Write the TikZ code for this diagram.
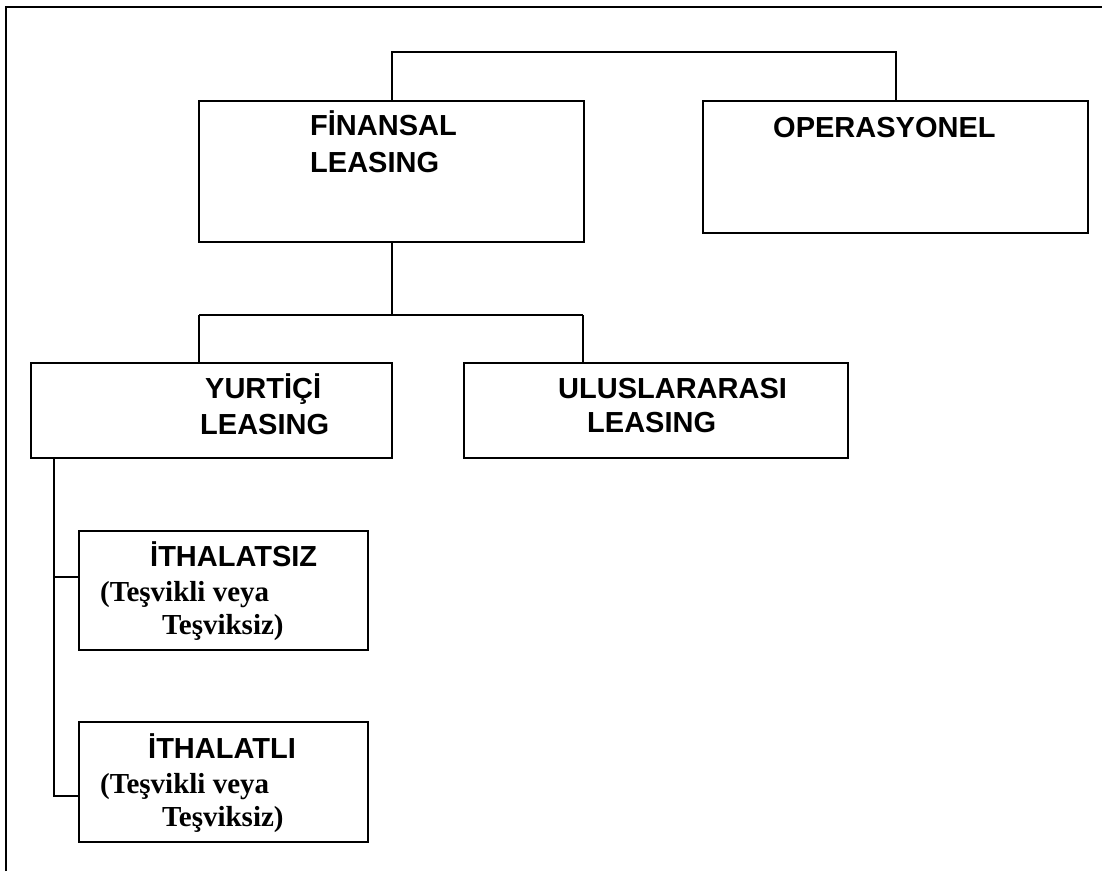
\documentclass[tikz,border=0pt]{standalone}
\usepackage{fontspec}
\setmainfont{Liberation Serif}[BoldFont={Liberation Serif Bold}]
\newfontfamily\headfont{Liberation Sans}[BoldFont={Liberation Sans Bold}]
\begin{document}
\begin{tikzpicture}[x=1pt,y=-1pt,
  box/.style={draw,line width=2.2pt,inner sep=0pt,anchor=north west},
  head/.style={anchor=base west,inner sep=0pt,font=\headfont\bfseries\fontsize{29}{34}\selectfont},
  sub/.style={anchor=base west,inner sep=0pt,font=\bfseries\fontsize{29}{34}\selectfont},
  link/.style={line width=2.2pt}]
\useasboundingbox (0,0) rectangle (1102,871);
\fill[white] (0,0) rectangle (1102,871);

% outer frame (top and left edges)
\draw[link] (6,871) -- (6,7) -- (1102,7);

% boxes
\node[box,minimum width=385pt,minimum height=141pt] (fin) at (198,100) {};
\node[box,minimum width=385pt,minimum height=132pt] (ope) at (702,100) {};
\node[box,minimum width=361pt,minimum height=95pt] (yur) at (30,362) {};
\node[box,minimum width=384pt,minimum height=95pt] (ulu) at (463,362) {};
\node[box,minimum width=289pt,minimum height=119pt] (its) at (78,530) {};
\node[box,minimum width=289pt,minimum height=120pt] (itl) at (78,721) {};

% texts
\node[head] (finA) at (310,135) {FİNANSAL};
\node[head] (finB) at (310,172) {LEASING};
\node[head] (opeA) at (773,137) {OPERASYONEL};
\node[head] (yurA) at (205,398) {YURTİÇİ};
\node[head] (yurB) at (200,434) {LEASING};
\node[head] (uluA) at (558,398) {ULUSLARARASI};
\node[head] (uluB) at (587,432) {LEASING};
\node[head] (itsA) at (150,566) {İTHALATSIZ};
\node[sub]  (itsB) at (100,601) {(Teşvikli veya};
\node[sub]  (itsC) at (162,634) {Teşviksiz)};
\node[head] (itlA) at (148,758) {İTHALATLI};
\node[sub]  (itlB) at (100,793) {(Teşvikli veya};
\node[sub]  (itlC) at (162,826) {Teşviksiz)};

% top level connector
\coordinate (topbar) at (0,52);
\draw[link] (fin.north) -- (fin.north |- topbar) -| (ope.north);

% second level connector
\coordinate (midbar) at (0,315);
\coordinate (j1) at (199,315);
\coordinate (j2) at (583,315);
\draw[link] (fin.south) -- (fin.south |- midbar);
\draw[link] (j1) -- (j2);
\draw[link] (j1) -- (j1 |- yur.north);
\draw[link] (j2) -- (j2 |- ulu.north);

% third level connector
\coordinate (stem) at (54,457);
\coordinate (b1) at (54,577);
\coordinate (b2) at (54,796);
\draw[link] (stem) -- (b2) -- (b2 -| itl.west);
\draw[link] (b1) -- (b1 -| its.west);
\end{tikzpicture}
\end{document}
